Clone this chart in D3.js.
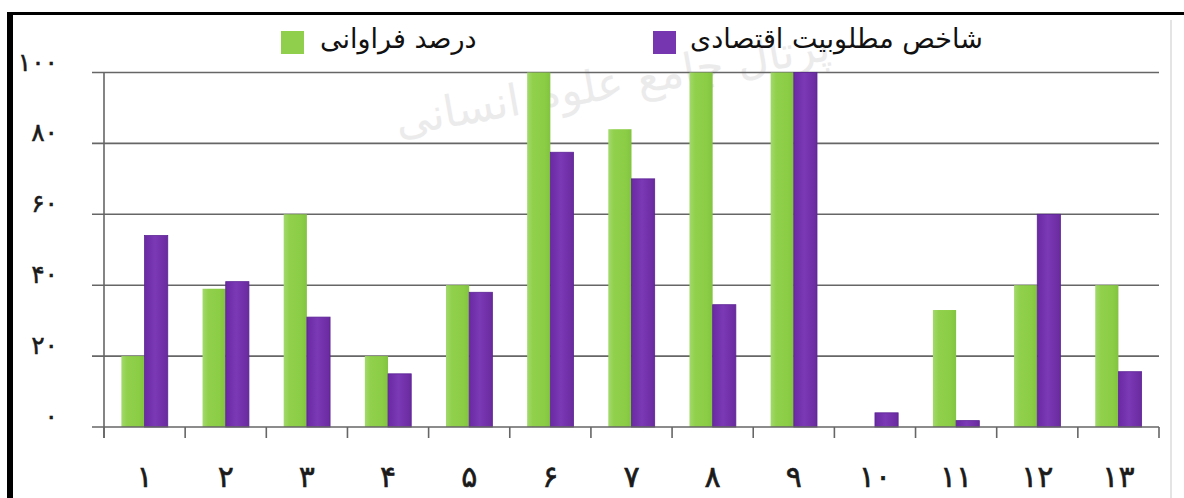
<!DOCTYPE html>
<html>
<head>
<meta charset="utf-8">
<script src="https://cdn.jsdelivr.net/npm/d3@7"></script>
<style>
  html, body { margin: 0; padding: 0; background: #fff; }
  svg { display: block; }
</style>
</head>
<body>
<svg id="chart" width="1184" height="498"></svg>
<script>
// ---- data ----
const categories = ["۱","۲","۳","۴","۵","۶","۷","۸","۹","۱۰","۱۱","۱۲","۱۳"];
const seriesNames = ["درصد فراوانی", "شاخص مطلوبیت اقتصادی"];
const frequencyPercent = [20, 39, 60, 20, 40, 100, 84, 100, 100, 0, 33, 40, 40];
const economicUtility = [54, 41, 31, 15, 38, 77.5, 70, 34.5, 100, 4, 1.8, 60, 15.6];
const yTicks = [0, 20, 40, 60, 80, 100];
const yTickLabels = ["۰", "۲۰", "۴۰", "۶۰", "۸۰", "۱۰۰"];
const watermarkText = "پرتال جامع علوم انسانی";

// ---- layout ----
const W = 1184, H = 498;
const plot = { left: 104, right: 1159, top: 72.5, bottom: 427 };
const svg = d3.select("#chart");
const fontFa = "'DejaVu Sans', sans-serif";

const defs = svg.append("defs");
function hGrad(id, stops) {
  const g = defs.append("linearGradient").attr("id", id)
    .attr("x1", "0%").attr("x2", "100%").attr("y1", "0%").attr("y2", "0%");
  stops.forEach(s => g.append("stop").attr("offset", s[0]).attr("stop-color", s[1]));
}
hGrad("gGreen", [["0%", "#a3da6c"], ["25%", "#90d04b"], ["75%", "#8ccd46"], ["100%", "#82c43f"]]);
hGrad("gPurple", [["0%", "#6a2aa2"], ["45%", "#7b39b6"], ["100%", "#6a2a9e"]]);
const fills = ["url(#gGreen)", "url(#gPurple)"];
const legendFills = ["#8fcf4c", "#7636b0"];

svg.append("rect").attr("width", W).attr("height", H).attr("fill", "#fff");

const x0 = d3.scaleBand().domain(categories).range([plot.left, plot.right]).padding(0);
const x1 = d3.scaleBand().domain(seriesNames).range([0, x0.bandwidth()])
  .paddingInner(0).paddingOuter(0.75);
const y = d3.scaleLinear().domain([0, 100]).range([plot.bottom, plot.top]);

// watermark (very faint)
svg.append("text")
  .attr("transform", "translate(615,98) rotate(-10)")
  .attr("text-anchor", "middle")
  .attr("font-family", fontFa)
  .attr("font-size", 44)
  .attr("fill", "#ebebeb")
  .text(watermarkText);

// gridlines
svg.append("g").selectAll("line").data(yTicks.slice(1)).join("line")
  .attr("x1", plot.left - 12).attr("x2", plot.right)
  .attr("y1", d => y(d)).attr("y2", d => y(d))
  .attr("stroke", "#666").attr("stroke-width", 1.6);

// bars
const series = [frequencyPercent, economicUtility];
const gBars = svg.append("g");
categories.forEach((c, i) => {
  seriesNames.forEach((s, j) => {
    const v = series[j][i];
    if (v <= 0) return;
    gBars.append("rect")
      .attr("x", x0(c) + x1(s))
      .attr("y", y(v))
      .attr("width", x1.bandwidth())
      .attr("height", y(0) - y(v))
      .attr("fill", fills[j])
      .attr("stroke", j === 1 ? "#5b2394" : "none")
      .attr("stroke-width", j === 1 ? 0.8 : 0);
  });
});

// x axis (baseline + ticks at category boundaries)
const xAxisG = svg.append("g").attr("transform", `translate(0,${plot.bottom})`);
xAxisG.append("line").attr("x1", plot.left - 12).attr("x2", plot.right)
  .attr("stroke", "#666").attr("stroke-width", 1.6);
const boundaries = categories.map(c => x0(c)).concat([plot.right]);
xAxisG.selectAll("line.tick").data(boundaries).join("line").attr("class", "tick")
  .attr("x1", d => d).attr("x2", d => d).attr("y1", 0).attr("y2", 11)
  .attr("stroke", "#666").attr("stroke-width", 1.6);
xAxisG.selectAll("text").data(categories).join("text")
  .attr("x", d => x0(d) + x0.bandwidth() / 2)
  .attr("y", 60)
  .attr("text-anchor", "middle")
  .attr("font-family", fontFa)
  .attr("font-size", 30)
  .attr("fill", "#1a1a1a")
  .attr("stroke", "#1a1a1a").attr("stroke-width", 0.6)
  .text(d => d);

// y axis line
svg.append("line").attr("x1", plot.left).attr("x2", plot.left)
  .attr("y1", plot.top).attr("y2", plot.bottom + 11)
  .attr("stroke", "#666").attr("stroke-width", 1.6);

// y labels
svg.append("g").selectAll("text").data(yTicks).join("text")
  .attr("x", 58)
  .attr("y", d => y(d) - 2)
  .attr("text-anchor", "end")
  .attr("font-family", fontFa)
  .attr("font-size", 25)
  .attr("fill", "#1a1a1a")
  .attr("stroke", "#1a1a1a").attr("stroke-width", 0.5)
  .text((d, i) => yTickLabels[i]);

// legend
const legendItems = [
  { name: seriesNames[0], sx: 281, tx: 320 },
  { name: seriesNames[1], sx: 653, tx: 690 }
];
const lg = svg.append("g");
legendItems.forEach((it, j) => {
  lg.append("rect").attr("x", it.sx).attr("y", 31).attr("width", 23).attr("height", 23)
    .attr("fill", legendFills[j]);
  lg.append("text").attr("x", it.tx).attr("y", 48)
    .attr("text-anchor", "start")
    .attr("font-family", fontFa)
    .attr("font-size", 27)
    .attr("fill", "#111")
    .text(it.name);
});

// frame
svg.append("rect").attr("x", 7).attr("y", 12).attr("width", 6).attr("height", H - 12).attr("fill", "#000");
svg.append("rect").attr("x", 7).attr("y", 12).attr("width", W - 7).attr("height", 3).attr("fill", "#000");
svg.append("line").attr("x1", 1171).attr("x2", 1171).attr("y1", 20).attr("y2", H)
  .attr("stroke", "#e4e4e4").attr("stroke-width", 2);
</script>
</body>
</html>
